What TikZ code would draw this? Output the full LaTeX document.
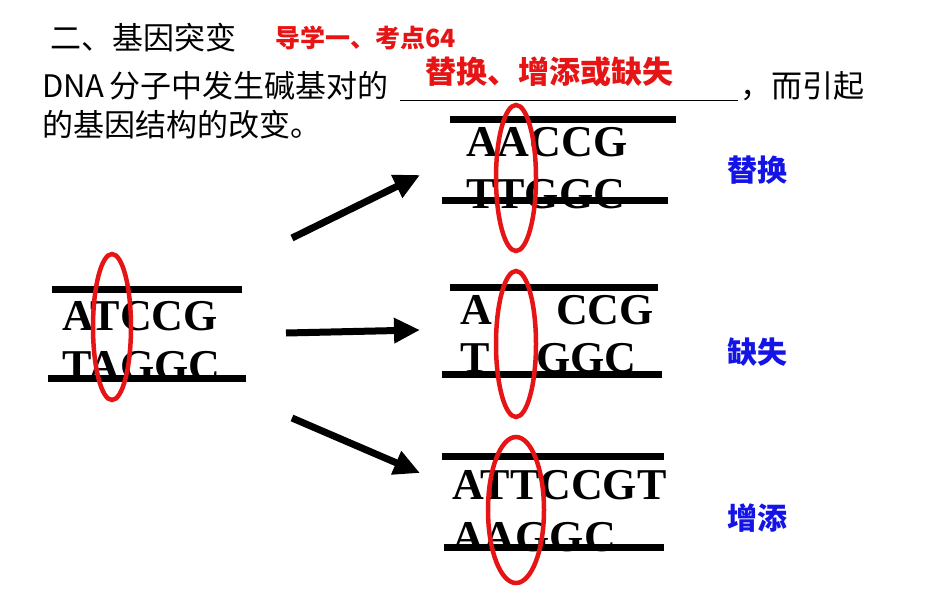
\documentclass[tikz,border=0pt]{standalone}
\usepackage{fontspec}
\setmainfont{Liberation Serif}
\newfontfamily\cjk{Noto Sans CJK SC}
\usetikzlibrary{arrows.meta,shapes.geometric}
\definecolor{myred}{RGB}{230,20,20}
\definecolor{myblue}{RGB}{20,20,230}
\begin{document}
\begin{tikzpicture}[x=1pt,y=-1pt,
  bar/.style={line width=7pt},
  base/.style={font=\fontsize{44}{44}\selectfont\bfseries,inner sep=0pt,anchor=west},
  oval/.style={draw=myred,line width=4.5pt},
  arr/.style={line width=7pt,-{Triangle[length=26pt,width=24pt]}},
  cn/.style={font=\cjk\fontsize{31}{31}\selectfont,inner sep=0pt,anchor=west},
  lab/.style={font=\cjk\bfseries\fontsize{30}{30}\selectfont,text=myblue,inner sep=0pt}]
\useasboundingbox[fill=white] (0,0) rectangle (950,594);
\node[cn,font=\cjk\fontsize{31}{31}\selectfont] (t1) at (50,38) {二、基因突变};
\node[cn,text=myred,font=\cjk\bfseries\fontsize{25}{25}\selectfont] (t2) at (275,38) {导学一、考点64};
\node[cn] (l2a) at (42,86) {DNA\,分子中发生碱基对的};
\coordinate (u1) at (400,100); \coordinate (u2) at (738,100);
\draw[line width=1pt] (u1) -- (u2);
\node[cn,text=myred,font=\cjk\bfseries\fontsize{31}{31}\selectfont] (ans) at (425,72) {替换、增添或缺失};
\node[cn] (l2b) at (740,86) {，而引起};
\node[cn] (l3) at (42,125) {的基因结构的改变。};
% left
\node[base] (b1) at (62,316) {ATCCG};
\node[base] (b2) at (62,366) {TAGGC};
\coordinate (p1) at (52,289); \coordinate (p2) at (242,289);
\coordinate (p3) at (48,378); \coordinate (p4) at (246,378);
\draw[bar] (p1)--(p2); \draw[bar] (p3)--(p4);
\node[oval,ellipse,minimum width=38pt,minimum height=146pt,inner sep=0pt] (o1) at (112,327) {};
% top right
\node[base] (c1) at (466,142) {AACCG};
\node[base] (c2) at (466,194) {TTGGC};
\coordinate (q1) at (450,119); \coordinate (q2) at (676,119);
\coordinate (q3) at (442,200); \coordinate (q4) at (668,200);
\draw[bar] (q1)--(q2); \draw[bar] (q3)--(q4);
\node[oval,ellipse,minimum width=40pt,minimum height=146pt,inner sep=0pt] (o2) at (516,178) {};
% middle
\node[base] (d1) at (460,310) {A};
\node[base] (d2) at (556,310) {CCG};
\node[base] (d3) at (460,358) {T};
\node[base] (d4) at (536,358) {GGC};
\coordinate (r1) at (450,287); \coordinate (r2) at (658,287);
\coordinate (r3) at (442,374); \coordinate (r4) at (662,374);
\draw[bar] (r1)--(r2); \draw[bar] (r3)--(r4);
\node[oval,ellipse,minimum width=40pt,minimum height=146pt,inner sep=0pt] (o3) at (516,344) {};
% bottom
\node[base] (e1) at (452,485) {ATTCCGT};
\node[base] (e2) at (452,537) {AAGGC};
\coordinate (s1) at (442,456); \coordinate (s2) at (664,456);
\coordinate (s3) at (444,547); \coordinate (s4) at (664,547);
\draw[bar] (s1)--(s2); \draw[bar] (s3)--(s4);
\node[oval,ellipse,minimum width=56pt,minimum height=146pt,inner sep=0pt] (o4) at (516,510) {};
% arrows
\coordinate (a1) at (292,238); \coordinate (a2) at (420,175);
\coordinate (a3) at (286,333); \coordinate (a4) at (420,330);
\coordinate (a5) at (292,418); \coordinate (a6) at (420,473);
\draw[arr] (a1)--(a2); \draw[arr] (a3)--(a4); \draw[arr] (a5)--(a6);
\node[lab] (m1) at (757,170) {替换};
\node[lab] (m2) at (757,352) {缺失};
\node[lab] (m3) at (757,518) {增添};
\end{tikzpicture}
\end{document}
